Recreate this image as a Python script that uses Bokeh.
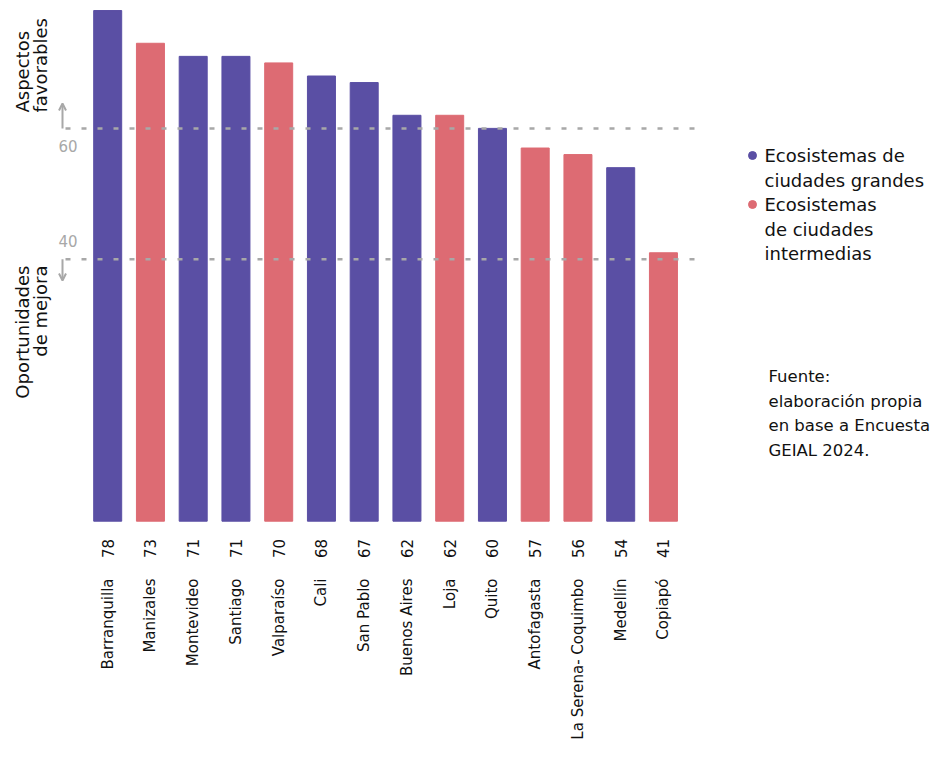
import math
from bokeh.plotting import figure
from bokeh.models import Range1d, ColumnDataSource, Arrow, OpenHead
from bokeh.core.properties import value
from bokeh.embed import file_html
from bokeh.resources import INLINE

# ---------------- data ----------------
cities = ["Barranquilla", "Manizales", "Montevideo", "Santiago", "Valparaíso", "Cali",
          "San Pablo", "Buenos Aires", "Loja", "Quito", "Antofagasta",
          "La Serena- Coquimbo", "Medellín", "Copiapó"]
scores = [78, 73, 71, 71, 70, 68, 67, 62, 62, 60, 57, 56, 54, 41]
groups = ["grande", "intermedia", "grande", "grande", "intermedia", "grande",
          "grande", "grande", "intermedia", "grande", "intermedia",
          "intermedia", "grande", "intermedia"]
thresholds = [60, 40]
threshold_labels = ["60", "40"]
legend_lines_grandes = ["Ecosistemas de", "ciudades grandes"]
legend_lines_intermedias = ["Ecosistemas", "de ciudades", "intermedias"]
source_lines = ["Fuente:", "elaboración propia", "en base a Encuesta", "GEIAL 2024."]

PURPLE = "#5a4fa4"
RED = "#dd6b73"
GREY = "#a8a8a8"
FONT = value("DejaVu Sans")

W, H = 934, 742
# pixel geometry of the canvas
X0_PX, STEP_PX = 107.2, 42.75
Y0_PX, PPU = 520.7, 6.547


def dx(px):
    return (px - X0_PX) / STEP_PX


def dy(py):
    return (Y0_PX - py) / PPU


p = figure(width=W, height=H, output_backend="svg", toolbar_location=None,
           x_range=Range1d(-X0_PX / STEP_PX, (W - X0_PX) / STEP_PX),
           y_range=Range1d(-(H - Y0_PX) / PPU, Y0_PX / PPU),
           min_border=0)
p.axis.visible = False
p.grid.visible = False
p.outline_line_color = None
p.background_fill_color = "white"

xs = list(range(len(cities)))
colors = [PURPLE if g == "grande" else RED for g in groups]
src = ColumnDataSource(dict(x=xs, top=scores, color=colors,
                            label=[str(s) for s in scores], city=cities))

p.vbar(x="x", top="top", bottom=0, width=28 / STEP_PX, color="color", source=src)

# threshold dashed lines (drawn over the bars)
for t in thresholds:
    p.segment(x0=dx(65), y0=t, x1=dx(694), y1=t, line_color=GREY,
              line_width=2.5, line_dash="5 11")

# threshold tick labels
p.text(x=[dx(58), dx(58)], y=[dy(145), dy(240)], text=threshold_labels,
       text_font=FONT, text_font_size="15px", text_color=GREY,
       text_align="left", text_baseline="middle")

# arrows
p.add_layout(Arrow(x_start=dx(62), y_start=thresholds[0], x_end=dx(62), y_end=dy(103),
                   line_color=GREY, line_width=2,
                   end=OpenHead(size=7, line_color=GREY, line_width=2)))
p.add_layout(Arrow(x_start=dx(62), y_start=thresholds[1], x_end=dx(62), y_end=dy(280),
                   line_color=GREY, line_width=2,
                   end=OpenHead(size=7, line_color=GREY, line_width=2)))

# value labels and city labels (rotated)
p.text(x="x", y=dy(548), text="label", source=src, angle=math.pi / 2,
       text_font=FONT, text_font_size="15px", text_color="#111111",
       text_align="center", text_baseline="middle")
p.text(x="x", y=dy(578), text="city", source=src, angle=math.pi / 2,
       text_font=FONT, text_font_size="15px", text_color="#111111",
       text_align="right", text_baseline="middle")

# left side labels (rotated)
p.text(x=[dx(22), dx(40)], y=[dy(112), dy(112)], text=["Aspectos", "favorables"],
       angle=math.pi / 2, text_font=FONT, text_font_size="18px", text_color="#111111",
       text_align="left", text_baseline="alphabetic")
p.text(x=[dx(22), dx(40)], y=[dy(265), dy(265)], text=["Oportunidades", "de mejora"],
       angle=math.pi / 2, text_font=FONT, text_font_size="18px", text_color="#111111",
       text_align="right", text_baseline="alphabetic")

# legend
p.scatter(x=[dx(752), dx(752)], y=[dy(155), dy(204)], size=8,
          color=[PURPLE, RED], marker="circle")
leg_text = legend_lines_grandes + legend_lines_intermedias
leg_y = [155, 180, 204, 229, 253]
p.text(x=[dx(764)] * len(leg_text), y=[dy(v) for v in leg_y], text=leg_text,
       text_font=FONT, text_font_size="18px", text_color="#111111",
       text_align="left", text_baseline="middle")

# source note
src_y = [376, 401, 425, 450]
p.text(x=[dx(768)] * len(source_lines), y=[dy(v) for v in src_y], text=source_lines,
       text_font=FONT, text_font_size="16.5px", text_color="#111111",
       text_align="left", text_baseline="middle")

open("out.html", "w").write(file_html(p, INLINE))
